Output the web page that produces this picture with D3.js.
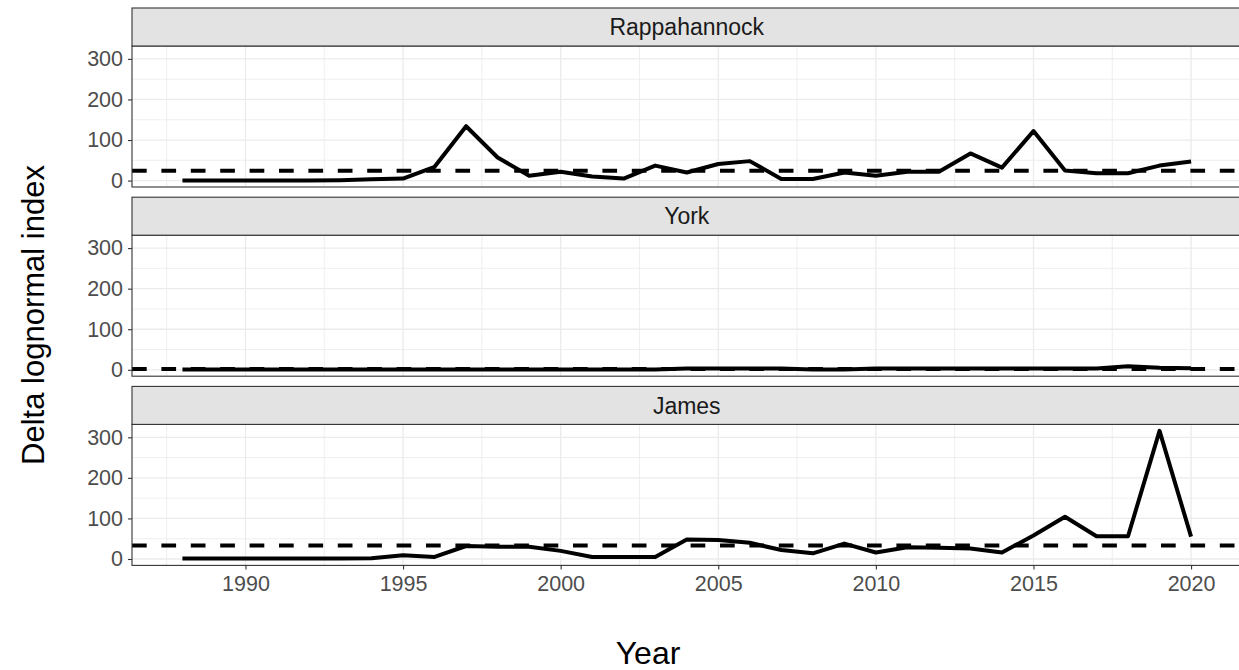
<html>
<head>
<script src="https://d3js.org/d3.v7.min.js"></script>
<style>
  body { margin: 0; background: #fff; }
  text { font-family: "Liberation Sans", Arial, sans-serif; }
</style>
</head>
<body>
<div id="chart_area"></div>
<script>
    // data
    let years = [1988, 1989, 1990, 1991, 1992, 1993, 1994, 1995, 1996, 1997, 1998,
                 1999, 2000, 2001, 2002, 2003, 2004, 2005, 2006, 2007, 2008, 2009,
                 2010, 2011, 2012, 2013, 2014, 2015, 2016, 2017, 2018, 2019, 2020];
    let rivers = ["Rappahannock", "York", "James"];

    let rappahannock = [0, 0, 0, 0, 0, 1, 3, 5, 34, 134, 57, 12, 22, 10, 5, 37, 20,
                        41, 48, 4, 4, 20, 12, 22, 22, 67, 32, 122, 25, 18, 18, 37, 47];
    let york = [0.5, 0.5, 0.5, 0.5, 0.5, 0.5, 0.5, 0.5, 0.5, 0.5, 0.5, 0.5, 0.5, 0.5, 0.5, 0.5,
                3, 3, 3, 3, 1, 1, 3, 3, 3, 3, 3, 3, 3, 3, 9, 5, 4];
    let james = [1, 1, 1, 1, 1, 1, 2, 9, 5, 32, 30, 30, 20, 5, 5, 5, 48, 47, 40, 22,
                 14, 38, 16, 29, 28, 26, 16, 58, 104, 56, 56, 316, 55];
    let refLines = [24, 2, 33];   // dashed mean line for each river

    let yTicks = [0, 100, 200, 300];
    let xTicks = [1990, 1995, 2000, 2005, 2010, 2015, 2020];

    let series = [rappahannock, york, james];

    let width = 1239;
    let height = 670;
    let left = 132;
    let right = 1241.5;
    let panelTop = 8;
    let stripH = 38;
    let plotH = 141;
    let step = 189.2;

    let svg = d3.select("#chart_area").append("svg")
        .attr("width", width)
        .attr("height", height);

    // ggplot style 5% expansion
    let xExt = d3.extent(years);
    let xPad = (xExt[1] - xExt[0]) * 0.05;
    let x = d3.scaleLinear()
        .domain([xExt[0] - xPad, xExt[1] + xPad])
        .range([left, right]);

    let allVals = [].concat(rappahannock, york, james, refLines);
    let yExt = [0, d3.max(allVals)];
    let yPad = (yExt[1] - yExt[0]) * 0.05;

    let line = d3.line()
        .x(d => x(d.year))
        .y(d => d.y);

    rivers.forEach((name, i) => {
        let top = panelTop + i * step;
        let pTop = top + stripH;
        let y = d3.scaleLinear()
            .domain([yExt[0] - yPad, yExt[1] + yPad])
            .range([pTop + plotH, pTop]);

        let g = svg.append("g");

        // minor grid
        let xMinor = xTicks.map(t => t - 2.5).concat([2022.5]).filter(t => x(t) > left && x(t) < right);
        g.selectAll(".xminor")
            .data(xMinor)
            .join("line")
            .attr("x1", d => x(d)).attr("x2", d => x(d))
            .attr("y1", pTop).attr("y2", pTop + plotH)
            .attr("stroke", "#ebebeb").attr("stroke-width", 0.8);
        g.selectAll(".yminor")
            .data([50, 150, 250])
            .join("line")
            .attr("x1", left).attr("x2", right)
            .attr("y1", d => y(d)).attr("y2", d => y(d))
            .attr("stroke", "#ebebeb").attr("stroke-width", 0.8);

        // major grid
        g.selectAll(".xmajor")
            .data(xTicks)
            .join("line")
            .attr("x1", d => x(d)).attr("x2", d => x(d))
            .attr("y1", pTop).attr("y2", pTop + plotH)
            .attr("stroke", "#ebebeb").attr("stroke-width", 1.3);
        g.selectAll(".ymajor")
            .data(yTicks)
            .join("line")
            .attr("x1", left).attr("x2", right)
            .attr("y1", d => y(d)).attr("y2", d => y(d))
            .attr("stroke", "#ebebeb").attr("stroke-width", 1.3);

        // dashed reference line
        g.append("line")
            .attr("x1", left).attr("x2", right)
            .attr("y1", y(refLines[i])).attr("y2", y(refLines[i]))
            .attr("stroke", "black")
            .attr("stroke-width", 4)
            .attr("stroke-dasharray", "14.7,14.7");

        // data line
        let pts = years.map((yr, k) => ({year: yr, y: y(series[i][k])}));
        g.append("path")
            .datum(pts)
            .attr("d", line)
            .attr("fill", "none")
            .attr("stroke", "black")
            .attr("stroke-width", 4)
            .attr("stroke-linejoin", "round");

        // panel border
        g.append("rect")
            .attr("x", left).attr("y", pTop)
            .attr("width", right - left).attr("height", plotH)
            .attr("fill", "none").attr("stroke", "#333333").attr("stroke-width", 1.1);

        // strip
        g.append("rect")
            .attr("x", left).attr("y", top)
            .attr("width", right - left).attr("height", stripH)
            .attr("fill", "#e3e3e3").attr("stroke", "#333333").attr("stroke-width", 1.1);
        g.append("text")
            .attr("x", (left + right) / 2)
            .attr("y", top + stripH / 2)
            .attr("dy", "0.36em")
            .attr("text-anchor", "middle")
            .attr("fill", "#1a1a1a")
            .style("font-size", "23px")
            .text(name);

        // y axis
        let yAxis = d3.axisLeft(y).tickValues(yTicks).tickSize(4).tickPadding(5);
        let ya = g.append("g").attr("transform", `translate(${left},0)`).call(yAxis);
        ya.select(".domain").remove();
        ya.selectAll(".tick line").attr("stroke", "#333333").attr("stroke-width", 1.1);
        ya.selectAll(".tick text")
            .attr("fill", "#4d4d4d")
            .style("font-size", "21.5px")
            .style("font-family", '"Liberation Sans", Arial, sans-serif');

        if (i == rivers.length - 1) {
            let xAxis = d3.axisBottom(x).tickValues(xTicks).tickFormat(d3.format("d")).tickSize(4).tickPadding(6);
            let xa = g.append("g").attr("transform", `translate(0,${pTop + plotH})`).call(xAxis);
            xa.select(".domain").remove();
            xa.selectAll(".tick line").attr("stroke", "#333333").attr("stroke-width", 1.1);
            xa.selectAll(".tick text")
                .attr("fill", "#4d4d4d")
                .style("font-size", "21.5px")
                .style("font-family", '"Liberation Sans", Arial, sans-serif');
        }
    });

    // axis titles
    svg.append("text")
        .attr("x", 648)
        .attr("y", 664)
        .attr("text-anchor", "middle")
        .style("font-size", "32px")
        .text("Year");

    svg.append("text")
        .attr("transform", "translate(44,315) rotate(-90)")
        .attr("text-anchor", "middle")
        .style("font-size", "31px")
        .text("Delta lognormal index");
</script>
</body>
</html>
